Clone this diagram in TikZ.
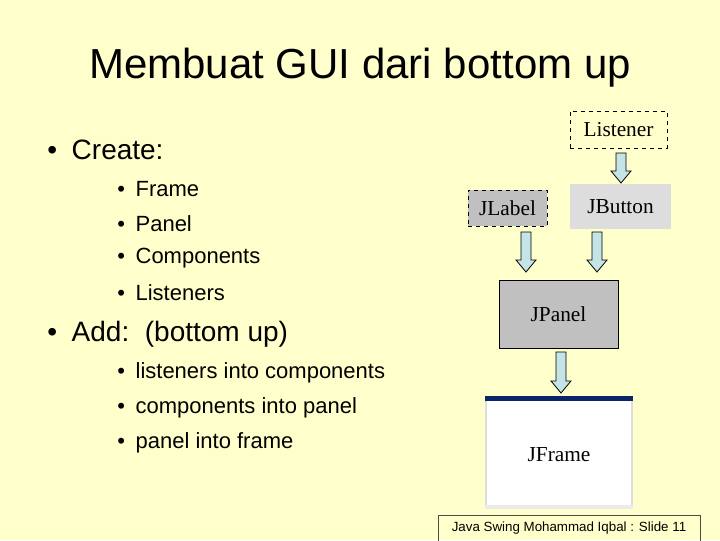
\documentclass[tikz,border=0pt]{standalone}
\usepackage{fontspec}
\setmainfont{Liberation Sans}
\newfontfamily\serifl{Liberation Serif}
\usetikzlibrary{calc}
\definecolor{bg}{HTML}{FFFFCC}
\definecolor{arr}{HTML}{C4E4E8}
\definecolor{gA}{HTML}{C0C0C0}
\definecolor{gB}{HTML}{DDDDDD}
\definecolor{tb}{HTML}{0A246A}
\tikzset{
 box/.style={draw=black, inner sep=0pt, font=\serifl\fontsize{16}{18}\selectfont},
 dbox/.style={box, dashed},
 bul/.style={anchor=west, inner sep=0pt, font=\fontsize{21}{24}\selectfont},
 sbul/.style={anchor=west, inner sep=0pt, font=\fontsize{16.5}{19}\selectfont},
}
\newcommand\blockarrow[2]{%
 \path let \p1=(#1), \p2=(#2) in
  [draw=black, fill=arr, line width=0.6pt]
  (\x1-3.75pt,\y1) -- (\x1+3.75pt,\y1) -- (\x1+3.75pt,\y2+9pt) -- (\x1+7.5pt,\y2+9pt)
  -- (\x1,\y2) -- (\x1-7.5pt,\y2+9pt) -- (\x1-3.75pt,\y2+9pt) -- cycle;}
\begin{document}
\begin{tikzpicture}[x=0.75pt,y=-0.75pt]
\fill[bg] (0,0) rectangle (720,540);
\useasboundingbox (0,0) rectangle (720,540);
\node[inner sep=0pt, font=\fontsize{31.5}{36}\selectfont] (title) at (360,68) {Membuat GUI dari bottom up};
\node[bul] (b1) at (47,150) {•\hspace{11pt}Create:};
\node[sbul] (s1) at (117,189) {•\hspace{8pt}Frame};
\node[sbul] (s2) at (117,224) {•\hspace{8pt}Panel};
\node[sbul] (s3) at (117,258) {•\hspace{8pt}Components};
\node[sbul] (s4) at (117,293) {•\hspace{8pt}Listeners};
\node[bul] (b2) at (47,334) {•\hspace{11pt}Add:\ \ (bottom up)};
\node[sbul] (s5) at (117,373) {•\hspace{8pt}listeners into components};
\node[sbul] (s6) at (117,408) {•\hspace{8pt}components into panel};
\node[sbul] (s7) at (117,443) {•\hspace{8pt}panel into frame};
% diagram
\node[dbox, fill=bg, minimum width=72.75pt, minimum height=27.75pt] (lis) at (618.5,129.5) {Listener};
\node[dbox, fill=gA, minimum width=59.25pt, minimum height=27pt] (lab) at (507.5,208) {JLabel};
\node[box, draw=none, fill=gB, minimum width=75.75pt, minimum height=33.75pt] (btn) at (620.5,206.5) {JButton};
\node[box, fill=gA, minimum width=89.25pt, minimum height=51pt] (pan) at (558.5,314) {JPanel};
\node[draw=gB, line width=1pt, fill=white, minimum width=109.5pt, minimum height=83.25pt, inner sep=0pt] (frm) at (559,452.5) {};
\fill[tb] ($(frm.north west)+(0,0)$) rectangle ($(frm.north east)+(0,5)$);
\fill[gB!60] ($(frm.south west)+(0,-4)$) rectangle (frm.south east);
\node[font=\serifl\fontsize{16}{18}\selectfont] (frt) at (559,455) {JFrame};
\coordinate (a1s) at (621,153); \coordinate (a1e) at (621,183);
\coordinate (a2s) at (526,232); \coordinate (a2e) at (526,272);
\coordinate (a3s) at (597,232); \coordinate (a3e) at (597,272);
\coordinate (a4s) at (561,352); \coordinate (a4e) at (561,393);
\blockarrow{a1s}{a1e}
\blockarrow{a2s}{a2e}
\blockarrow{a3s}{a3e}
\blockarrow{a4s}{a4e}
\node[draw=black!70, inner sep=0pt, minimum width=196.5pt, minimum height=19.5pt, font=\fontsize{10}{12}\selectfont] (foot) at (569,528) {Java Swing Mohammad Iqbal : Slide 11};
\end{tikzpicture}
\end{document}
